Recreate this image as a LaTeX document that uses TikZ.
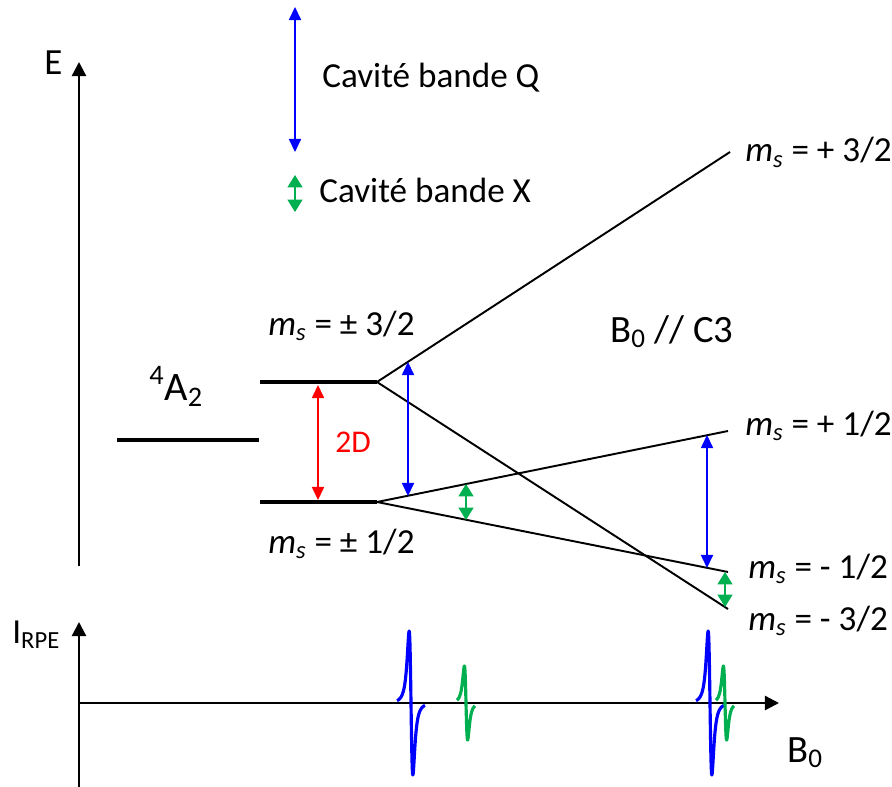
\documentclass[tikz,border=0pt]{standalone}
\usepackage{fontspec}
\setmainfont{Carlito}
\usetikzlibrary{arrows.meta}
\definecolor{qblue}{RGB}{0,0,255}
\definecolor{xgreen}{RGB}{0,176,80}
\definecolor{dred}{RGB}{255,0,0}
\tikzset{
  level/.style={line width=2.8pt},
  branch/.style={line width=1.1pt},
  axis/.style={-{Triangle[length=8pt,width=8pt]}, line width=1.3pt},
  qarrow/.style={{Triangle[length=7.5pt,width=7pt]}-{Triangle[length=7.5pt,width=7pt]}, qblue, line width=0.7pt},
  xarrow/.style={{Triangle[length=7pt,width=8.5pt]}-{Triangle[length=7pt,width=8.5pt]}, xgreen, line width=0.7pt},
  redarrow/.style={{Triangle[length=7.5pt,width=7pt]}-{Triangle[length=7.5pt,width=7pt]}, dred, line width=0.7pt},
  lbl/.style={inner sep=0pt, anchor=base west, font=\fontsize{20}{24}\selectfont},
  biglbl/.style={lbl, font=\fontsize{22}{26}\selectfont},
  signal/.style={line width=1.8pt, line join=round}
}
\newcommand{\msub}{\textit{m}\textsubscript{\textit{s}}}

\begin{document}
\begin{tikzpicture}[x=0.02cm, y=-0.02cm]
  \useasboundingbox (0,0) rectangle (892,787);
  % axes
  \coordinate (E0) at (79,566);
  \coordinate (E1) at (79,62);
  \coordinate (I0) at (79,787);
  \coordinate (I1) at (79,622);
  \coordinate (B0) at (79,703);
  \coordinate (B1) at (779,703);
  \draw[axis] (E0) -- (E1);
  \draw[axis] (I0) -- (I1);
  \draw[axis] (B0) -- (B1);
  \node[lbl, font=\fontsize{21}{25}\selectfont] (E) at (44,75) {E};
  \node[lbl] (Irpe) at (12,643) {I\textsubscript{RPE}};
  \node[biglbl] (Bfield) at (787,762) {B\textsubscript{0}};
  % levels
  \coordinate (cL) at (117,440);
  \coordinate (cR) at (259,440);
  \coordinate (hiL) at (260,382);
  \coordinate (hi) at (377,382);
  \coordinate (loL) at (260,502);
  \coordinate (lo) at (377,502);
  \draw[level] (cL) -- (cR);
  \draw[level] (hiL) -- (hi);
  \draw[level] (loL) -- (lo);
  \coordinate (p32) at (730,152);
  \coordinate (m32) at (728,609);
  \coordinate (p12) at (728,431);
  \coordinate (m12) at (728,572);
  \draw[branch] (hi) -- (p32);
  \draw[branch] (hi) -- (m32);
  \draw[branch] (lo) -- (p12);
  \draw[branch] (lo) -- (m12);
  \node[lbl, font=\fontsize{23}{27}\selectfont] (A2) at (149,400) {\textsuperscript{4}A\textsubscript{2}};
  \node[lbl] (hilbl) at (268,335) {\msub\ = ± 3/2};
  \node[lbl] (lolbl) at (268,553) {\msub\ = ± 1/2};
  \node[lbl] (p32lbl) at (745,162) {\msub\ = + 3/2};
  \node[lbl] (p12lbl) at (745,435) {\msub\ = + 1/2};
  \node[lbl] (m12lbl) at (748,578) {\msub\ = - 1/2};
  \node[lbl] (m32lbl) at (748,630) {\msub\ = - 3/2};
  \node[biglbl] (orient) at (610,342) {B\textsubscript{0} // C3};
  % transitions
  \coordinate (dt) at (318,385);
  \coordinate (db) at (318,500);
  \draw[redarrow] (dt) -- (db);
  \node[lbl, font=\fontsize{18}{21}\selectfont, text=dred] (zfs) at (335,452) {2D};
  \coordinate (q1t) at (408,362);
  \coordinate (q1b) at (408,496);
  \coordinate (x1t) at (466,484);
  \coordinate (x1b) at (466,520);
  \coordinate (q2t) at (707,435);
  \coordinate (q2b) at (707,568);
  \coordinate (x2t) at (725,572);
  \coordinate (x2b) at (725,607);
  \draw[qarrow] (q1t) -- (q1b);
  \draw[xarrow] (x1t) -- (x1b);
  \draw[qarrow] (q2t) -- (q2b);
  \draw[xarrow] (x2t) -- (x2b);
  % legend
  \coordinate (qlt) at (295,7);
  \coordinate (qlb) at (295,152);
  \coordinate (xlt) at (295,175);
  \coordinate (xlb) at (295,212);
  \draw[qarrow] (qlt) -- (qlb);
  \draw[xarrow] (xlt) -- (xlb);
  \node[lbl] (Qband) at (322,88) {Cavité bande Q};
  \node[lbl] (Xband) at (319,203) {Cavité bande X};
  % spectrum
  \foreach \xc/\amp/\pw/\dom/\col in {411/72/3.2/14/qblue, 710/72/3.2/14/qblue, 466/37/2.8/9/xgreen, 725/37/2.8/9/xgreen}
    \draw[signal, \col] plot[domain=-\dom:\dom, samples=121]
      ({\xc+\x}, {703+\amp*(\x/\pw)/(1+(\x/\pw)^2)^2/0.3248});
\end{tikzpicture}
\end{document}
